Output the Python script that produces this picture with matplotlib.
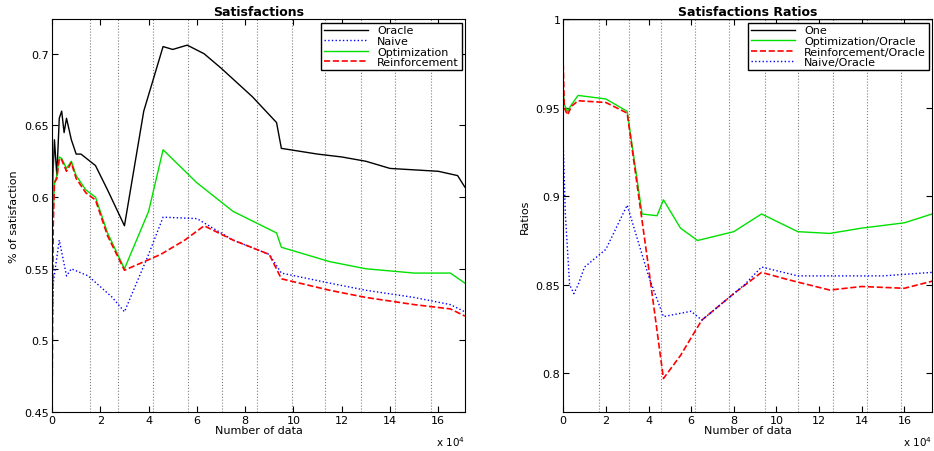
import numpy as np
import matplotlib
matplotlib.use("Agg")
import matplotlib.pyplot as plt

# ---------------- data (x in units of 1e4) ----------------
x_oracle = [0, 0.1, 0.2, 0.3, 0.4, 0.5, 0.6, 0.8, 1.0, 1.2, 1.8, 2.3, 3.0, 3.8, 4.6, 5.0, 5.6, 6.3, 7.0, 8.3, 9.3, 9.5, 11, 12, 13, 14, 16, 16.8, 17.1]
y_oracle = [0.60, 0.64, 0.615, 0.655, 0.66, 0.645, 0.655, 0.64, 0.63, 0.63, 0.622, 0.605, 0.58, 0.66, 0.705, 0.703, 0.706, 0.700, 0.69, 0.67, 0.652, 0.634, 0.63, 0.628, 0.625, 0.62, 0.618, 0.615, 0.607]

x_opt = [0, 0.05, 0.1, 0.2, 0.3, 0.4, 0.6, 0.8, 1.0, 1.4, 1.8, 2.3, 3.0, 4.0, 4.6, 6.0, 7.5, 9.3, 9.5, 11.5, 13, 15, 16.5, 17.1]
y_opt = [0.66, 0.59, 0.61, 0.615, 0.628, 0.627, 0.62, 0.625, 0.615, 0.605, 0.60, 0.575, 0.55, 0.59, 0.633, 0.61, 0.59, 0.575, 0.565, 0.555, 0.55, 0.547, 0.547, 0.54]

x_reinf = [0, 0.05, 0.1, 0.2, 0.3, 0.4, 0.6, 0.8, 1.0, 1.4, 1.8, 2.3, 3.0, 4.5, 5.5, 6.3, 7.5, 9.0, 9.5, 11.5, 13, 15, 16.5, 17.1]
y_reinf = [0.45, 0.58, 0.61, 0.613, 0.627, 0.626, 0.618, 0.624, 0.613, 0.603, 0.598, 0.573, 0.549, 0.56, 0.57, 0.58, 0.57, 0.56, 0.543, 0.535, 0.53, 0.525, 0.522, 0.517]

x_naive = [0, 0.05, 0.3, 0.6, 0.8, 1.5, 2.5, 3.0, 4.0, 4.6, 6.0, 7.5, 9.0, 9.5, 11.5, 13, 15, 16.5, 17.1]
y_naive = [0.50, 0.54, 0.57, 0.545, 0.55, 0.545, 0.53, 0.52, 0.56, 0.586, 0.585, 0.57, 0.56, 0.547, 0.54, 0.535, 0.53, 0.525, 0.52]

x_r_opt = [0, 0.05, 0.2, 0.4, 0.7, 2.0, 3.0, 3.7, 4.4, 4.7, 5.5, 6.3, 8.0, 9.3, 11, 12.5, 14, 16, 17.3]
y_r_opt = [0.96, 0.952, 0.948, 0.952, 0.957, 0.955, 0.948, 0.89, 0.889, 0.898, 0.882, 0.875, 0.88, 0.89, 0.88, 0.879, 0.882, 0.885, 0.89]

x_r_reinf = [0, 0.05, 0.2, 0.4, 0.7, 2.0, 3.0, 4.0, 4.7, 5.5, 6.5, 8.0, 9.3, 10.5, 12.5, 14, 16, 17.3]
y_r_reinf = [0.975, 0.95, 0.946, 0.951, 0.954, 0.953, 0.947, 0.86, 0.797, 0.81, 0.83, 0.845, 0.857, 0.853, 0.847, 0.849, 0.848, 0.852]

x_r_naive = [0, 0.1, 0.3, 0.5, 0.7, 1.0, 2.0, 3.0, 4.0, 4.7, 6.0, 6.5, 8.5, 9.3, 11, 13, 15, 17.3]
y_r_naive = [0.93, 0.89, 0.85, 0.845, 0.85, 0.86, 0.87, 0.895, 0.855, 0.832, 0.835, 0.83, 0.85, 0.86, 0.855, 0.855, 0.855, 0.857]

vlines_left = [1.57, 2.73, 4.17, 5.62, 7.02, 8.51, 9.92, 11.32, 12.81, 14.21, 15.70]
vlines_right = [1.69, 3.10, 4.60, 6.20, 7.79, 9.44, 11.03, 12.63, 14.23, 15.82]

fig = plt.figure(figsize=(9.34, 4.52), dpi=100)
ax1 = fig.add_axes([0.0557, 0.086, 0.442, 0.869])
ax2 = fig.add_axes([0.603, 0.086, 0.395, 0.869])

def style(ax, vl):
    for v in vl:
        ax.axvline(v, color='grey', ls=':', lw=0.8, zorder=0)
    ax.tick_params(direction='in', top=True, right=True, labelsize=8, length=4, pad=2)
    ax.set_xticks(range(0, 18, 2))
    ax.set_xlabel("Number of data", fontsize=8, labelpad=0)
    ax.text(1.0, -0.055, r"x 10$^4$", transform=ax.transAxes, fontsize=7.5, ha='right', va='top')

leg_kw = dict(loc='upper right', fontsize=8, fancybox=False, edgecolor='k', borderaxespad=0.3,
              handlelength=4.0, labelspacing=0.05, borderpad=0.25, framealpha=1, handletextpad=0.8)

ax1.plot(x_oracle, y_oracle, 'k-', lw=1, label="Oracle")
ax1.plot(x_naive, y_naive, color='b', ls=':', lw=1, label="Naive")
ax1.plot(x_opt, y_opt, color='#00e000', ls='-', lw=1, label="Optimization")
ax1.plot(x_reinf, y_reinf, 'r--', lw=1.2, label="Reinforcement")
ax1.set_xlim(0, 17.1)
ax1.set_ylim(0.45, 0.724)
ax1.set_yticks([0.45, 0.5, 0.55, 0.6, 0.65, 0.7])
ax1.set_yticklabels(["0.45", "0.5", "0.55", "0.6", "0.65", "0.7"])
ax1.set_ylabel("% of satisfaction", fontsize=8)
ax1.set_title("Satisfactions", fontsize=9, fontweight='bold', pad=3)
style(ax1, vlines_left)
ax1.legend(**leg_kw)

ax2.axhline(1.0, color='k', lw=1, label="One")
ax2.plot(x_r_opt, y_r_opt, color='#00e000', ls='-', lw=1, label="Optimization/Oracle")
ax2.plot(x_r_reinf, y_r_reinf, 'r--', lw=1.2, label="Reinforcement/Oracle")
ax2.plot(x_r_naive, y_r_naive, color='b', ls=':', lw=1, label="Naive/Oracle")
ax2.set_xlim(0, 17.3)
ax2.set_ylim(0.778, 1.0)
ax2.set_yticks([0.8, 0.85, 0.9, 0.95, 1.0])
ax2.set_yticklabels(["0.8", "0.85", "0.9", "0.95", "1"])
ax2.set_ylabel("Ratios", fontsize=8)
ax2.set_title("Satisfactions Ratios", fontsize=9, fontweight='bold', pad=3)
style(ax2, vlines_right)
ax2.legend(**leg_kw)

fig.savefig("out.png", dpi=100)
